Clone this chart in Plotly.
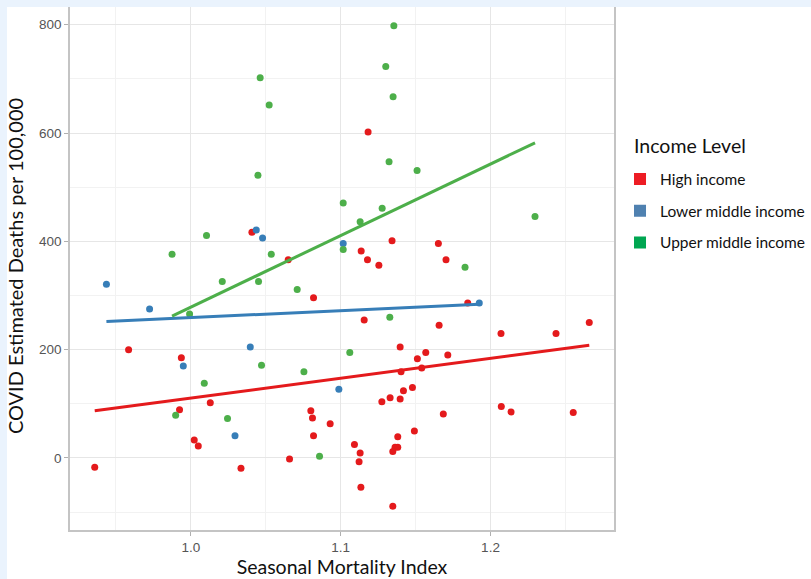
import plotly.graph_objects as go

# ---- data ----
high_x = [1.0408, 1.065, 1.1183, 1.1137, 1.1343, 1.1652, 1.1179, 1.1255, 1.1703, 1.0819,
          0.9585, 0.9937, 1.013, 0.9925, 1.0801, 1.0812, 1.093, 1.0819, 1.0023, 1.005,
          1.0659, 0.9359, 1.0335, 1.1848, 1.1157, 1.1657, 1.207, 1.2437, 1.2659, 1.1397,
          1.1512, 1.1568, 1.1715, 1.1403, 1.1541, 1.1419, 1.1479, 1.1275, 1.133, 1.1397,
          1.1685, 1.2072, 1.2137, 1.2552, 1.1492, 1.1092, 1.113, 1.1123, 1.1381, 1.1363,
          1.1381, 1.1348, 1.1135, 1.1348]
high_y = [417, 366, 602, 382, 401, 396, 366, 356, 366, 296,
          200, 185, 102, 89, 87, 74, 63, 41, 33, 22,
          -2, -17, -19, 286, 255, 245, 230, 230, 250, 205,
          183, 195, 190, 159, 166, 124, 130, 104, 111, 109,
          81, 95, 85, 84, 50, 25, 9, -7, 39, 20,
          20, 12, -54, -89]

lower_x = [1.0437, 1.0479, 1.1017, 0.9437, 0.9725, 0.995, 1.0397, 1.0988, 1.0295, 1.1925]
lower_y = [421, 406, 396, 321, 275, 170, 205, 127, 41, 286]

upper_x = [1.0463, 1.0523, 1.0448, 1.0105, 0.9875, 1.0537, 1.1355, 1.1301, 1.135, 1.1323,
           1.151, 1.1017, 1.1277, 1.113, 1.2297, 1.1017, 1.183, 1.021, 1.0452, 1.071,
           0.9992, 1.0472, 1.0755, 1.009, 0.9899, 1.0245, 1.0859, 1.1061, 1.1328]
upper_y = [702, 652, 522, 411, 376, 376, 798, 723, 667, 547,
           531, 471, 461, 436, 446, 385, 352, 326, 326, 311,
           266, 171, 159, 138, 79, 73, 3, 195, 260]

# linear trend lines (start / end)
groups = ["High income", "Lower middle income", "Upper middle income"]
trend_x0 = [0.9359, 0.9437, 0.9875]
trend_x1 = [1.2659, 1.1925, 1.2297]
trend_y0 = [87, 252, 262]
trend_y1 = [208, 284, 582]

x_ticks = [1.0, 1.1, 1.2]
x_ticklabels = ["1.0", "1.1", "1.2"]
y_ticks = [0, 200, 400, 600, 800]
y_ticklabels = ["0", "200", "400", "600", "800"]
legend_title = "Income Level"

point_colors = ["#E41A1C", "#377EB8", "#4DAF4A"]
legend_colors = ["#ED1C24", "#4F81B0", "#00A651"]

FONT = "Lato"
TICKFONT = "Liberation Sans"

fig = go.Figure()
series = [(high_x, high_y), (lower_x, lower_y), (upper_x, upper_y)]
for (xs, ys), col, name in zip(series, point_colors, groups):
    fig.add_trace(go.Scatter(x=xs, y=ys, mode="markers", name=name, showlegend=False,
                             marker=dict(color=col, size=7, line=dict(width=0))))
for i, name in enumerate(groups):
    fig.add_trace(go.Scatter(x=[trend_x0[i], trend_x1[i]], y=[trend_y0[i], trend_y1[i]],
                             mode="lines", showlegend=False, name=name,
                             line=dict(color=point_colors[i], width=3)))
for i, name in enumerate(groups):
    fig.add_trace(go.Scatter(x=[None], y=[None], mode="markers", name=name,
                             legendgroup=name, showlegend=True,
                             marker=dict(color=legend_colors[i], size=12, symbol="square")))

axis_common = dict(showgrid=True, gridcolor="#e6e6e6", gridwidth=1, zeroline=False,
                   showline=True, linecolor="#c4c4c4", linewidth=1.5,
                   ticks="outside", ticklen=4, tickcolor="#b0b0b0", automargin=False,
                   tickfont=dict(family=TICKFONT, size=13.5, color="#555555"))

BAND = "#EAF3FD"
fig.update_layout(
    width=811, height=579, autosize=False,
    margin=dict(l=70, r=197, t=2, b=49),
    paper_bgcolor="white", plot_bgcolor="white",
    xaxis=dict(range=[0.9194, 1.2824], tickvals=x_ticks, ticktext=x_ticklabels, mirror=False,
               minor=dict(dtick=0.05, tick0=0.95, showgrid=True, gridcolor="#f2f2f2", ticks=""),
               title=dict(text="Seasonal Mortality Index", standoff=4,
                          font=dict(family=FONT, size=19.5, color="#111111")),
               **axis_common),
    yaxis=dict(range=[-133, 842], tickvals=y_ticks, ticktext=y_ticklabels, mirror=True,
               minor=dict(dtick=100, tick0=100, showgrid=True, gridcolor="#f2f2f2", ticks=""),
               title=dict(text="COVID Estimated Deaths per 100,000", standoff=10,
                          font=dict(family=FONT, size=20, color="#111111")),
               **axis_common),
    legend=dict(xref="container", yref="container", x=0.7645, xanchor="left",
                y=0.7193, yanchor="top",
                font=dict(family=FONT, size=15.5, color="#111111"),
                tracegroupgap=8.5, bgcolor="rgba(0,0,0,0)"),
    annotations=[dict(text=legend_title, xref="paper", yref="paper",
                      x=1.033, y=0.729, xanchor="left", yanchor="middle", showarrow=False,
                      font=dict(family=FONT, size=19.5, color="#111111"))],
    shapes=[
        dict(type="rect", xref="paper", yref="paper", x0=-0.2, x1=1.4, y0=0.9905, y1=1.01,
             fillcolor=BAND, line=dict(width=0), layer="above"),
        dict(type="rect", xref="paper", yref="paper", x0=-0.2, x1=-0.1158, y0=-0.2, y1=1.01,
             fillcolor=BAND, line=dict(width=0), layer="above"),
    ],
)

fig.write_html(
    "out.html",
    config={"displayModeBar": False},
    post_script=("document.body.style.margin='0';"
                 "document.body.style.overflow='hidden';"
                 "document.documentElement.style.overflow='hidden';"),
)
